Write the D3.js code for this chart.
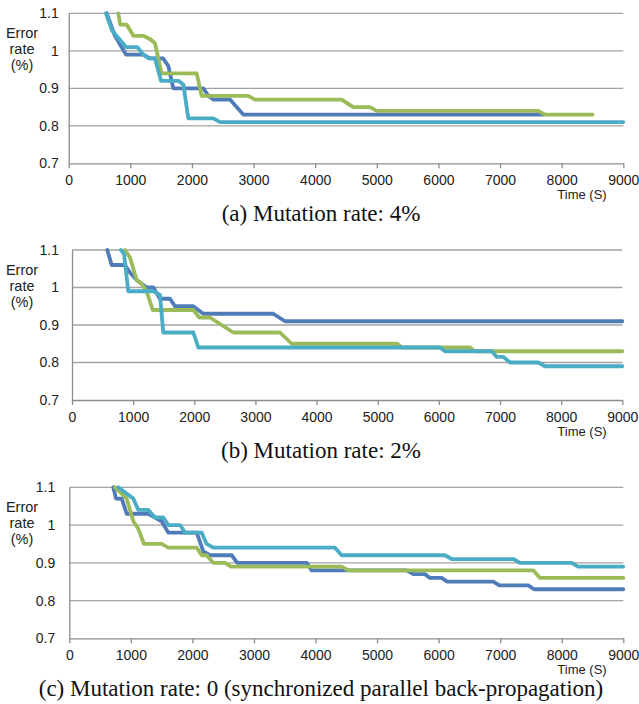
<!DOCTYPE html>
<html>
<head>
<meta charset="utf-8">
<script src="https://cdn.jsdelivr.net/npm/d3@7"></script>
<style>
  body { margin: 0; background: #fff; }
  .tick text, .ylab, .xlab { font-family: "Liberation Sans", Arial, sans-serif; fill: #222; }
  .caption { font-family: "Liberation Serif", "Times New Roman", serif; fill: #111; }
</style>
</head>
<body>
<svg id="viz" width="639" height="704"></svg>
<script>
const xTicks = [0, 1000, 2000, 3000, 4000, 5000, 6000, 7000, 8000, 9000],
    yTicks = [0.7, 0.8, 0.9, 1, 1.1],
    seriesNames = ["blue", "green", "cyan"],
    captions = [
        "(a) Mutation rate: 4%",
        "(b) Mutation rate: 2%",
        "(c) Mutation rate: 0 (synchronized parallel back-propagation)"
    ]

// [time (s), error rate (%)]
const aBlue = [[617,1.1],[750,1.04],[930,0.99],[1210,0.99],[1320,0.98],[1530,0.98],[1616,0.96],[1698,0.90],[2184,0.90],[2266,0.88],[2346,0.87],[2617,0.87],[2833,0.83],[7700,0.83]]
const aGreen = [[805,1.1],[835,1.07],[940,1.07],[1050,1.04],[1211,1.04],[1330,1.03],[1400,1.02],[1509,0.94],[2077,0.94],[2158,0.88],[2914,0.88],[3022,0.87],[4430,0.87],[4618,0.85],[4889,0.85],[4998,0.84],[7620,0.84],[7729,0.83],[8502,0.83]]
const aCyan = [[605,1.1],[700,1.055],[930,1.01],[1113,1.01],[1210,0.99],[1292,0.98],[1400,0.98],[1498,0.92],[1779,0.92],[1860,0.91],[1941,0.82],[2346,0.82],[2455,0.81],[9000,0.81]]

const bBlue = [[577,1.1],[649,1.06],[867,1.06],[948,1.04],[1058,1.02],[1221,1.00],[1330,1.00],[1439,0.97],[1603,0.97],[1684,0.95],[1984,0.95],[2147,0.93],[3292,0.93],[3483,0.91],[9000,0.91]]
const bGreen = [[867,1.1],[948,1.08],[1058,1.02],[1140,1.01],[1221,0.99],[1320,0.94],[1984,0.94],[2082,0.92],[2256,0.92],[2638,0.88],[3401,0.88],[3593,0.85],[5320,0.85],[5391,0.84],[6509,0.84],[6590,0.83],[9000,0.83]]
const bCyan = [[800,1.1],[850,1.09],[921,0.99],[1330,0.99],[1439,0.98],[1493,0.88],[1984,0.88],[2066,0.84],[6018,0.84],[6100,0.83],[6864,0.83],[6946,0.815],[7055,0.815],[7164,0.80],[7626,0.80],[7735,0.79],[9000,0.79]]

const cBlue = [[715,1.1],[759,1.07],[851,1.07],[932,1.03],[1284,1.03],[1392,1.02],[1500,1.01],[1608,0.98],[2070,0.98],[2177,0.93],[2286,0.92],[2638,0.92],[2729,0.90],[3856,0.90],[3937,0.88],[5481,0.88],[5589,0.87],[5778,0.87],[5859,0.86],[6049,0.86],[6140,0.85],[6887,0.85],[6985,0.84],[7456,0.84],[7548,0.83],[9000,0.83]]
const cGreen = [[742,1.1],[932,1.07],[1040,1.01],[1121,0.99],[1213,0.95],[1500,0.95],[1608,0.94],[2070,0.94],[2150,0.92],[2231,0.92],[2339,0.90],[2530,0.90],[2626,0.89],[4425,0.89],[4533,0.88],[7537,0.88],[7646,0.86],[9000,0.86]]
const cCyan = [[796,1.1],[1040,1.07],[1121,1.04],[1284,1.04],[1392,1.02],[1527,1.02],[1608,1.00],[1799,1.00],[1880,0.98],[2150,0.98],[2231,0.95],[2339,0.94],[4316,0.94],[4425,0.92],[6103,0.92],[6211,0.91],[7213,0.91],[7321,0.90],[8160,0.90],[8267,0.89],[9000,0.89]]

const colors = { blue: "#4f7cb9", green: "#9bbb59", cyan: "#4bacc6" }

// pixel frame of each panel
const panels = [
    { x0: 68.7, x1: 623.3, top: 13.3,  bottom: 163.3, pad: 10, data: { blue: aBlue, green: aGreen, cyan: aCyan } },
    { x0: 72,   x1: 622.3, top: 250,   bottom: 400,   pad: 13, data: { blue: bBlue, green: bGreen, cyan: bCyan } },
    { x0: 69.3, x1: 623.3, top: 487.3, bottom: 638.3, pad: 14, data: { blue: cBlue, green: cGreen, cyan: cCyan } }
]

const svg = d3.select("#viz")

panels.forEach(function(p, i) {

    const x = d3.scaleLinear().domain([0, 9000]).range([p.x0, p.x1]),
        y = d3.scaleLinear().domain([0.7, 1.1]).range([p.bottom, p.top])

    const g = svg.append("g").attr("class", "panel")

    // gridlines
    g.append("g").selectAll("line")
        .data(yTicks.slice(1))
        .enter().append("line")
        .attr("x1", p.x0).attr("x2", p.x1)
        .attr("y1", d => y(d)).attr("y2", d => y(d))
        .attr("stroke", "#a3a3a3")
        .attr("stroke-width", 1.3)

    // y axis
    const yAxis = g.append("g")
        .attr("transform", "translate(" + p.x0 + ",0)")
        .call(d3.axisLeft(y).tickValues(yTicks).tickSize(0).tickPadding(p.pad).tickFormat(d3.format("")))
    yAxis.select(".domain").attr("stroke", "#8c8c8c").attr("stroke-width", 1.3)
    yAxis.selectAll("text").style("font-size", "14px")

    // x axis
    const xAxis = g.append("g")
        .attr("transform", "translate(0," + p.bottom + ")")
        .call(d3.axisBottom(x).tickValues(xTicks).tickSize(5).tickPadding(7).tickSizeOuter(0).tickFormat(d3.format("d")))
    xAxis.select(".domain").attr("stroke", "#8c8c8c").attr("stroke-width", 1.3)
    xAxis.selectAll("line").attr("stroke", "#8c8c8c").attr("stroke-width", 1.3)
    xAxis.selectAll("text").style("font-size", "14px")

    // y label
    g.append("text")
        .attr("class", "ylab")
        .attr("text-anchor", "middle")
        .style("font-size", "14.5px")
        .selectAll("tspan")
        .data(["Error", "rate", "(%)"])
        .enter().append("tspan")
        .attr("x", 22)
        .attr("y", (d, k) => p.top + 25 + k * 16)
        .text(d => d)

    // x label
    g.append("text")
        .attr("class", "xlab")
        .attr("x", 582)
        .attr("y", p.bottom + 36)
        .attr("text-anchor", "middle")
        .style("font-size", "13px")
        .text("Time (S)")

    // series
    const line = d3.line().x(d => x(d[0])).y(d => y(d[1]))

    g.append("g").selectAll("path")
        .data(seriesNames)
        .enter().append("path")
        .attr("d", d => line(p.data[d]))
        .attr("fill", "none")
        .attr("stroke", d => colors[d])
        .attr("stroke-width", 3.8)
        .attr("stroke-linejoin", "round")
        .attr("stroke-linecap", "round")

    // caption
    svg.append("text")
        .attr("class", "caption")
        .attr("x", 321)
        .attr("y", p.bottom + 58)
        .attr("text-anchor", "middle")
        .style("font-size", "23px")
        .text(captions[i])
})
</script>
</body>
</html>
